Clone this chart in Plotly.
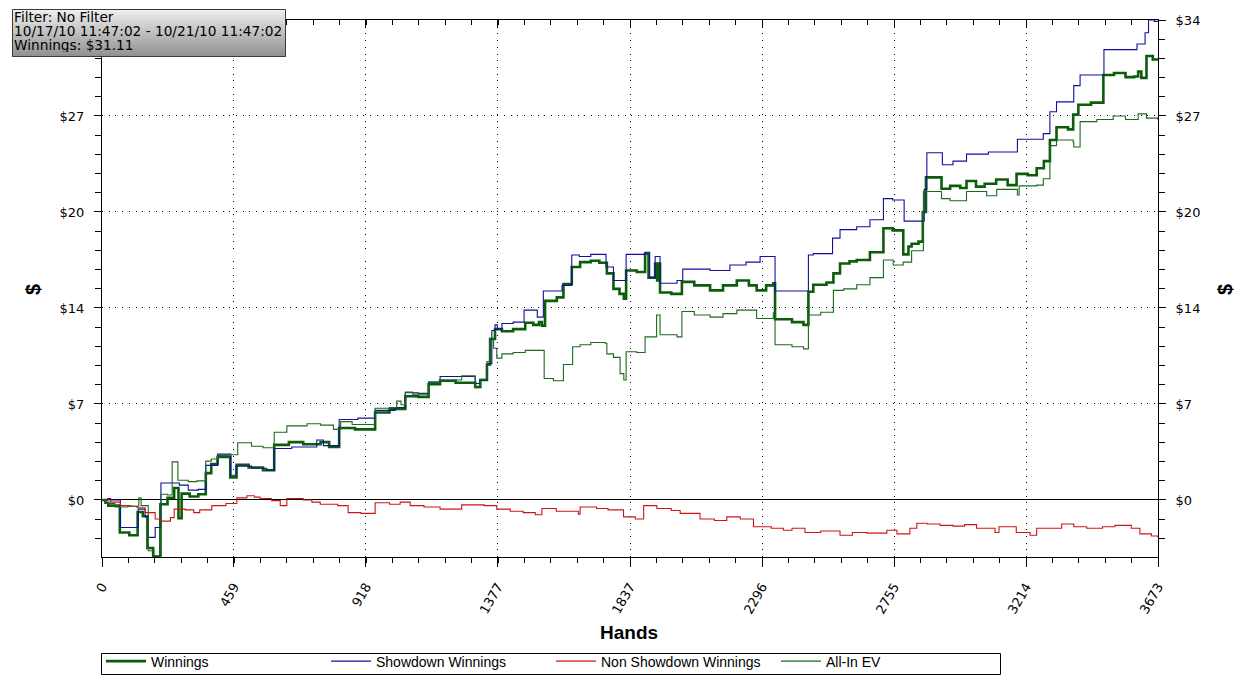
import plotly.graph_objects as go

# axis ticks
hand_ticks = [0, 459, 918, 1377, 1837, 2296, 2755, 3214, 3673]
dollar_ticks = [0, 6.8, 13.6, 20.4, 27.2, 34]
dollar_labels = ["$0", "$7", "$14", "$20", "$27", "$34"]

# Winnings (step points: hand, $)
win_hands = [0, 12, 22, 62, 95, 124, 142, 158, 178, 203, 228, 251, 266, 277, 305, 335, 361, 380, 402,
             446, 468, 510, 560, 599, 650, 700, 760, 790, 825, 880, 950, 1000, 1055, 1100, 1136, 1176,
             1230, 1298, 1316, 1339, 1350, 1367, 1391, 1430, 1472, 1500, 1520, 1530, 1541, 1582, 1605,
             1634, 1663, 1700, 1730, 1756, 1779, 1800, 1815, 1823, 1860, 1889, 1901, 1924, 1931, 1936,
             1941, 1980, 2017, 2060, 2115, 2160, 2208, 2250, 2277, 2310, 2335, 2341, 2400, 2440, 2457,
             2474, 2520, 2544, 2567, 2600, 2625, 2671, 2718, 2750, 2787, 2805, 2816, 2840, 2855, 2866,
             2920, 2950, 2985, 3007, 3040, 3070, 3110, 3150, 3181, 3220, 3251, 3276, 3297, 3320, 3360,
             3378, 3396, 3440, 3483, 3520, 3560, 3590, 3604, 3615, 3633, 3655, 3673]
win_vals = [0, -0.2, -0.4, -2.3, -2.5, -0.85, -1.15, -3.4, -4.0, -0.3, 0.15, 0.85, -1.3, 0.45, 0.25, 0.4,
            1.9, 2.55, 3.05, 1.6, 2.5, 2.3, 2.1, 3.9, 4.1, 3.95, 4.1, 3.75, 5.1, 5.0, 6.2, 6.45, 7.35,
            7.3, 8.2, 8.45, 8.3, 8.0, 8.5, 9.6, 11.4, 12.1, 11.95, 12.1, 12.55, 12.4, 12.6, 12.35, 14.1,
            14.35, 15.3, 16.5, 16.85, 16.95, 16.8, 16.05, 14.95, 14.6, 14.25, 16.25, 16.15, 17.45,
            15.75, 16.75, 15.55, 16.75, 14.7, 14.6, 15.45, 15.2, 14.85, 15.2, 15.55, 15.2, 14.85, 15.2,
            15.35, 12.8, 12.6, 12.4, 14.75, 15.25, 15.4, 16.05, 16.75, 16.9, 17.0, 17.55, 19.25, 19.1,
            17.4, 17.95, 18.15, 18.3, 20.4, 22.85, 22.05, 22.25, 22.1, 22.6, 22.2, 22.4, 22.7, 22.3,
            23.1, 23.0, 23.5, 24.0, 25.5, 26.4, 26.25, 27.3, 28.0, 28.15, 30.1, 30.25, 29.95, 30.0,
            30.35, 29.9, 31.45, 31.2, 31.11]

# Showdown Winnings
sd_hands = [0, 20, 30, 64, 126, 150, 161, 185, 205, 269, 300, 335, 361, 402, 448, 466, 520, 573, 599,
            660, 747, 770, 825, 890, 950, 1020, 1055, 1100, 1136, 1176, 1298, 1316, 1339, 1356, 1367,
            1375, 1391, 1430, 1468, 1514, 1535, 1600, 1634, 1660, 1700, 1753, 1779, 1823, 1889, 1905,
            1924, 1941, 2000, 2020, 2115, 2184, 2240, 2289, 2341, 2457, 2474, 2541, 2567, 2625, 2671,
            2718, 2750, 2790, 2860, 2869, 2923, 2960, 3007, 3083, 3184, 3274, 3297, 3320, 3380, 3402,
            3485, 3600, 3628, 3640, 3660, 3673]
sd_vals = [0, 0.1, 0, -1.95, -0.65, -1.2, -2.65, -1.95, 1.2, 1.05, 0.7, 0.75, 2.45, 3.25, 1.75, 2.4,
           2.25, 2.1, 3.65, 3.75, 4.25, 3.85, 5.7, 5.8, 6.35, 6.55, 7.6, 7.55, 8.35, 8.75, 8.25, 8.5,
           9.65, 12.0, 12.4, 12.1, 12.5, 12.6, 13.45, 12.95, 14.8, 15.2, 17.35, 17.25, 17.4, 16.5,
           15.55, 17.4, 17.55, 15.75, 17.25, 15.35, 15.55, 16.35, 16.25, 16.65, 16.85, 17.25, 14.8,
           17.35, 17.45, 18.55, 19.15, 19.35, 19.85, 21.35, 21.25, 19.75, 22.0, 24.6, 23.75, 24.0,
           24.5, 24.65, 25.55, 25.95, 27.5, 28.2, 29.35, 30.1, 31.9, 32.3, 33.1, 34.0, 33.9, 33.9]

# Non Showdown Winnings
nsd_hands = [0, 30, 64, 100, 122, 150, 185, 205, 238, 251, 290, 319, 340, 382, 431, 469, 504, 530, 550,
             590, 620, 643, 700, 730, 759, 820, 856, 900, 950, 1000, 1037, 1072, 1120, 1176, 1251, 1330,
             1373, 1420, 1465, 1507, 1530, 1580, 1657, 1663, 1720, 1760, 1814, 1855, 1884, 1930, 1980,
             2011, 2057, 2080, 2130, 2173, 2220, 2266, 2328, 2370, 2400, 2445, 2500, 2567, 2610, 2660,
             2730, 2765, 2810, 2834, 2870, 2915, 2960, 3000, 3042, 3106, 3120, 3180, 3228, 3251, 3300,
             3338, 3380, 3425, 3480, 3523, 3580, 3610, 3650, 3673]
nsd_vals = [0, -0.15, -0.4, -0.45, -0.55, -0.9, -1.35, -1.5, -1.25, -0.65, -0.7, -0.9, -0.7, -0.4,
            -0.25, 0.15, 0.3, 0.2, 0.1, -0.05, -0.4, 0.1, 0.0, -0.15, -0.3, -0.4, -0.9, -0.95, -0.2,
            -0.3, -0.15, -0.4, -0.5, -0.65, -0.35, -0.4, -0.65, -0.8, -0.9, -1.05, -0.6, -0.8, -1.0,
            -0.5, -0.6, -0.7, -1.2, -1.35, -0.4, -0.6, -0.75, -0.95, -0.95, -1.35, -1.45, -1.2, -1.35,
            -1.9, -2.0, -2.15, -2.0, -2.3, -2.2, -2.5, -2.3, -2.35, -2.15, -2.4, -2.0, -1.65, -1.7,
            -1.8, -1.85, -1.75, -2.0, -2.3, -1.9, -2.3, -2.5, -2.0, -2.0, -1.7, -1.9, -2.0, -1.9, -1.8,
            -2.0, -2.4, -2.55, -2.65]

# All-In EV
ev_hands = [0, 15, 45, 90, 128, 136, 161, 180, 205, 228, 244, 264, 300, 330, 361, 380, 402, 440, 472,
            520, 560, 599, 643, 713, 760, 805, 830, 870, 950, 1000, 1025, 1040, 1055, 1080, 1136, 1176,
            1251, 1298, 1316, 1339, 1350, 1362, 1373, 1391, 1430, 1472, 1538, 1570, 1605, 1637, 1663,
            1700, 1750, 1756, 1779, 1802, 1815, 1823, 1860, 1889, 1929, 1941, 2000, 2017, 2060, 2115,
            2160, 2208, 2277, 2335, 2341, 2400, 2440, 2457, 2500, 2544, 2580, 2625, 2671, 2718, 2752,
            2787, 2816, 2857, 2920, 2950, 3007, 3077, 3112, 3184, 3190, 3251, 3274, 3297, 3320, 3378,
            3380, 3402, 3460, 3517, 3560, 3604, 3633, 3673]
ev_vals = [0, -0.25, -0.5, -0.45, 0.15, -0.4, -3.6, -3.95, 0.4, 0.35, 2.7, 1.4, 1.3, 1.35, 2.75, 2.9,
           3.15, 3.2, 4.05, 3.8, 3.7, 4.8, 5.25, 5.4, 5.3, 5.0, 5.55, 5.35, 6.5, 6.55, 7.0, 6.75, 7.65,
           7.5, 8.35, 8.5, 8.8, 7.95, 8.55, 9.8, 11.45, 10.75, 10.05, 10.35, 10.45, 10.6, 8.6, 8.45,
           9.6, 10.85, 11.0, 11.15, 11.1, 10.35, 10.1, 8.95, 8.5, 10.5, 10.45, 11.55, 13.1, 11.7,
           11.55, 13.35, 13.1, 12.95, 13.2, 13.45, 12.85, 13.25, 11.0, 10.85, 10.7, 13.1, 13.3, 14.85,
           14.95, 15.25, 15.75, 17.0, 16.65, 16.85, 17.65, 21.85, 21.35, 21.2, 21.85, 21.55, 22.0,
           21.6, 22.25, 22.3, 22.75, 25.1, 25.5, 25.35, 25.0, 26.8, 26.95, 27.2, 26.95, 27.35, 27.05,
           26.9]

# page geometry (the html body adds an 8px margin around the figure)
PAGE_W, PAGE_H, BODY = 1259, 691, 8
L, R, T, B = 102, 1158, 20, 557   # plot area in page pixels
y_range = [-4.04, 34]
x_range = [0, 3673]

# the top-left label sits under the info box in the original, so it is left blank there
left_labels = dollar_labels[:-1] + [""]


def fx(px):
    return (px - L) / (R - L)


def fy(py):
    return (B - py) / (B - T)


fig = go.Figure()
fig.add_trace(go.Scatter(x=win_hands, y=win_vals, name="Winnings", mode="lines",
                         line=dict(color="#0c5c0c", width=2.6, shape="hv")))
fig.add_trace(go.Scatter(x=sd_hands, y=sd_vals, name="Showdown Winnings", mode="lines",
                         line=dict(color="#10109c", width=1.1, shape="hv")))
fig.add_trace(go.Scatter(x=nsd_hands, y=nsd_vals, name="Non Showdown Winnings", mode="lines",
                         line=dict(color="#cc1616", width=1.1, shape="hv")))
# on the mirrored axes so the top / right axes get drawn (same ranges)
fig.add_trace(go.Scatter(x=ev_hands, y=ev_vals, name="All-In EV", mode="lines",
                         xaxis="x2", yaxis="y2",
                         line=dict(color="#1c6a1c", width=1.1, shape="hv")))

tick_font = dict(family="DejaVu Sans", size=13, color="black")
ylab_font = dict(family="DejaVu Sans", size=13, color="black")
grid_dash = "1px,5.7px"
x_minor = dict(tick0=0, dtick=459.125 / 5, ticklen=5, tickcolor="black", showgrid=False)
y_minor = dict(tick0=0, dtick=6.8 / 5, ticks="outside", ticklen=6, tickcolor="black", showgrid=False)

fig.update_layout(
    width=PAGE_W - BODY, height=PAGE_H - BODY,
    margin=dict(l=L - BODY, r=PAGE_W - R, t=T - BODY, b=PAGE_H - B, autoexpand=False),
    paper_bgcolor="white", plot_bgcolor="white",
    legend=dict(orientation="h", x=fx(101), xanchor="left", y=fy(645.5), yanchor="top",
                borderwidth=0, bgcolor="rgba(0,0,0,0)",
                font=dict(family="Liberation Sans", size=14, color="black"),
                entrywidth=170, entrywidthmode="pixels", itemwidth=40),
    xaxis=dict(range=x_range, tickmode="array", tickvals=hand_ticks,
               ticktext=[str(v) for v in hand_ticks], tickangle=-60, tickfont=tick_font,
               ticks="outside", ticklen=9, tickcolor="black", ticklabelstandoff=7,
               showline=True, linecolor="black", linewidth=1,
               showgrid=True, gridcolor="black", gridwidth=1, griddash=grid_dash,
               zeroline=False, minor=dict(ticks="outside", **x_minor)),
    xaxis2=dict(range=x_range, overlaying="x", side="top", anchor="y",
                tickmode="array", tickvals=hand_ticks, showticklabels=False,
                ticks="inside", ticklen=8, tickcolor="black",
                showline=True, linecolor="black", linewidth=1, showgrid=False, zeroline=False,
                minor=dict(ticks="inside", **x_minor)),
    yaxis=dict(range=y_range, tickmode="array", tickvals=dollar_ticks, ticktext=left_labels,
               tickfont=ylab_font, ticks="outside", ticklen=7, tickcolor="black",
               ticklabelstandoff=7, showline=True, linecolor="black", linewidth=1,
               showgrid=True, gridcolor="black", gridwidth=1, griddash=grid_dash,
               zeroline=True, zerolinecolor="black", zerolinewidth=1, minor=y_minor),
    yaxis2=dict(range=y_range, overlaying="y", side="right", anchor="x",
                tickmode="array", tickvals=dollar_ticks, ticktext=dollar_labels,
                tickfont=ylab_font, ticks="outside", ticklen=7, tickcolor="black",
                ticklabelstandoff=7, showline=True, linecolor="black", linewidth=1,
                showgrid=False, zeroline=False, minor=y_minor),
)

# legend frame
fig.add_shape(type="rect", xref="paper", yref="paper", layer="below",
              x0=fx(101.5), x1=fx(1000.5), y0=fy(674.5), y1=fy(653.5),
              line=dict(color="black", width=1), fillcolor="white")

# axis titles
fig.add_annotation(text="<b>Hands</b>", x=fx(629), y=fy(632), xref="paper", yref="paper",
                   xanchor="center", yanchor="middle", showarrow=False,
                   font=dict(family="Liberation Sans", size=19, color="black"))
for px in (33, 1225):
    fig.add_annotation(text="<b>$</b>", x=fx(px), y=fy(290), xref="paper", yref="paper",
                       xanchor="center", yanchor="middle", showarrow=False, textangle=-90,
                       font=dict(family="Liberation Sans", size=20, color="black"))

# info box with a grey gradient
bx0, bx1, by0, by1 = 12, 286, 9, 57
n_strips = 16
for i in range(n_strips):
    g = int(238 - (238 - 146) * i / (n_strips - 1))
    ya = by0 + (by1 - by0) * i / n_strips
    yb = by0 + (by1 - by0) * (i + 1) / n_strips
    fig.add_shape(type="rect", xref="paper", yref="paper", layer="above",
                  x0=fx(bx0), x1=fx(bx1), y0=fy(yb), y1=fy(ya),
                  fillcolor=f"rgb({g},{g},{g})", line=dict(width=0))
fig.add_shape(type="rect", xref="paper", yref="paper", layer="above",
              x0=fx(bx0 + 0.5), x1=fx(bx1 - 0.5), y0=fy(by1 - 0.5), y1=fy(by0 + 0.5),
              line=dict(color="#3a3a3a", width=1))
info_lines = ["Filter: No Filter", "10/17/10 11:47:02 - 10/21/10 11:47:02", "Winnings: $31.11"]
for k, line in enumerate(info_lines):
    fig.add_annotation(text=line, x=fx(12), y=fy(17 + 14 * k), xref="paper", yref="paper",
                       xanchor="left", yanchor="middle", showarrow=False, height=14,
                       font=dict(family="DejaVu Sans", size=13.7, color="black"))

# right window border
fig.add_shape(type="line", xref="paper", yref="paper", layer="above",
              x0=fx(1255.5), x1=fx(1255.5), y0=fy(BODY), y1=fy(PAGE_H),
              line=dict(color="black", width=1.5))

fig.write_html("out.html")
